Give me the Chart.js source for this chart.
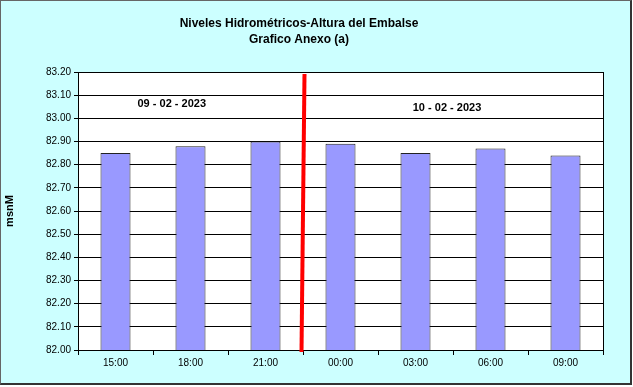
<!DOCTYPE html>
<html>
<head>
<meta charset="utf-8">
<script src="https://cdn.jsdelivr.net/npm/chart.js@4.4.1/dist/chart.umd.min.js"></script>
<style>
  html, body { margin: 0; padding: 0; background: #fff; }
  #frame {
    position: absolute; left: 0; top: 0;
    width: 632px; height: 385px; box-sizing: border-box;
    background: #CCFFFF;
    border-left: 1px solid #666; border-top: 1px solid #666;
    border-right: 2px solid #333; border-bottom: 2px solid #333;
  }
  #wrap { position: absolute; left: 0; top: 0; width: 633px; height: 387px; }
</style>
</head>
<body>
<div id="frame"></div>
<div id="wrap"><canvas id="chart"></canvas></div>
<script>
const hours = ['15:00', '18:00', '21:00', '00:00', '03:00', '06:00', '09:00'];
const levels = [82.85, 82.88, 82.90, 82.89, 82.85, 82.87, 82.84];
const titleLines = ['Niveles Hidrométricos-Altura del Embalse', 'Grafico Anexo (a)'];
const dayLabels = ['09 - 02 - 2023', '10 - 02 - 2023'];
const yMin = 82.0, yMax = 83.2, yStep = 0.1;

// where the day labels sit, in axis units (category index, msnM)
const dayLabelAt = [{ x: 0.75, y: 83.062 }, { x: 4.42, y: 83.045 }];
// day change sits between 21:00 and 00:00
const dayBreak = 2.5;

const extras = {
  id: 'extras',
  beforeDraw(chart) {
    const { ctx, chartArea: a } = chart;
    ctx.save();
    ctx.fillStyle = '#FFFFFF';
    ctx.fillRect(a.left, a.top, a.right - a.left, a.bottom - a.top);
    ctx.restore();
  },
  afterDatasetsDraw(chart) {
    const { ctx, chartArea: a, scales } = chart;
    const xs = scales.x, ys = scales.y;
    const step = xs.getPixelForValue(1) - xs.getPixelForValue(0);
    const px = v => xs.getPixelForValue(0) + v * step;

    ctx.save();
    // plot frame
    ctx.strokeStyle = '#000';
    ctx.lineWidth = 1;
    ctx.strokeRect(a.left + 0.5, a.top + 0.5, a.right - a.left, a.bottom - a.top);

    // red day separator
    const bx = px(dayBreak);
    ctx.strokeStyle = '#FF0000';
    ctx.lineWidth = 4;
    ctx.beginPath();
    ctx.moveTo(bx + 1.5, a.top + 2);
    ctx.lineTo(bx - 1.5, a.bottom + 2);
    ctx.stroke();

    // day labels
    ctx.fillStyle = '#000';
    ctx.font = 'bold 11px Arial, "Liberation Sans", sans-serif';
    ctx.textAlign = 'center';
    ctx.textBaseline = 'middle';
    dayLabels.forEach((t, i) => {
      ctx.fillText(t, px(dayLabelAt[i].x), ys.getPixelForValue(dayLabelAt[i].y));
    });

    // title
    ctx.font = 'bold 12px Arial, "Liberation Sans", sans-serif';
    titleLines.forEach((t, i) => ctx.fillText(t, 299, 24 + i * 16));
    ctx.restore();
  }
};

new Chart(document.getElementById('chart'), {
  type: 'bar',
  data: {
    labels: hours,
    datasets: [{
      data: levels,
      backgroundColor: '#9999FF',
      borderColor: '#222222',
      borderWidth: 1,
      barPercentage: 0.4,
      categoryPercentage: 1
    }]
  },
  options: {
    responsive: true,
    maintainAspectRatio: false,
    animation: false,
    layout: { padding: { top: 72, right: 30, left: 0, bottom: 0 } },
    plugins: { legend: { display: false }, tooltip: { enabled: false }, title: { display: false } },
    scales: {
      x: {
        afterFit(scale) { scale.height = 37; },
        grid: { offset: true, drawOnChartArea: false, color: '#000', tickLength: 5 },
        border: { color: '#000', width: 1 },
        ticks: { color: '#000', font: { family: 'Arial, "Liberation Sans", sans-serif', size: 10 }, padding: 2 }
      },
      y: {
        min: yMin,
        max: yMax,
        afterFit(scale) { scale.width = 78; },
        grid: { color: '#000', lineWidth: 1, tickLength: 4 },
        border: { color: '#000', width: 1 },
        ticks: {
          stepSize: yStep,
          color: '#000',
          padding: 3,
          font: { family: 'Arial, "Liberation Sans", sans-serif', size: 10 },
          callback: v => v.toFixed(2)
        },
        title: {
          display: true,
          text: 'msnM',
          color: '#000',
          padding: { top: 3, bottom: 0 },
          font: { family: 'Arial, "Liberation Sans", sans-serif', size: 11, weight: 'bold' }
        }
      }
    }
  },
  plugins: [extras]
});
</script>
</body>
</html>
